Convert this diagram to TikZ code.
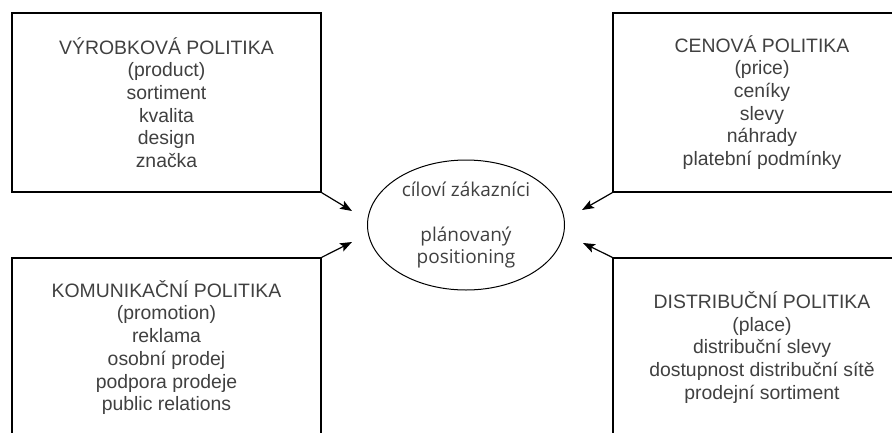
\documentclass[tikz,border=0pt]{standalone}
\usepackage{fontspec}
\setmainfont{Liberation Sans}
\newfontfamily\targetfont{Open Sans}
\usepackage{xcolor}
\definecolor{mktext}{RGB}{64,64,64}
\usetikzlibrary{arrows.meta,shapes.geometric}

\begin{document}
\begin{tikzpicture}[x=1pt, y=-1pt,
  policy/.style={draw=black, line width=1.2pt, text=mktext, font=\fontsize{19.4}{22.7}\selectfont, minimum height=179pt, align=center, inner sep=0pt},
  target/.style={ellipse, draw=black, line width=1pt, text=mktext, font=\targetfont\fontsize{19}{22.5}\selectfont, minimum width=197pt, minimum height=130pt, align=center, inner sep=0pt},
  feed/.style={-{Stealth[length=12pt,width=9pt,inset=2.5pt]}, line width=1.2pt}
]
  \useasboundingbox (0,0) rectangle (892,432);
  \clip (0,0) rectangle (892,432);

  \node[target] (zakaznici) at (466,225) {cíloví zákazníci\\[22.5pt]plánovaný\\positioning};

  \node[policy, minimum width=309pt] (vyrobkova) at (166.5,102.5) {VÝROBKOVÁ POLITIKA\\(product)\\sortiment\\kvalita\\design\\značka};
  \node[policy, minimum width=298pt] (cenova) at (762,102.5) {CENOVÁ POLITIKA\\(price)\\ceníky\\slevy\\náhrady\\platební podmínky};
  \node[policy, minimum width=309pt] (komunikacni) at (166.5,347.5) {KOMUNIKAČNÍ POLITIKA\\(promotion)\\reklama\\osobní prodej\\podpora prodeje\\public relations};
  \node[policy, minimum width=298pt] (distribucni) at (762,347.5) {DISTRIBUČNÍ POLITIKA\\(place)\\distribuční slevy\\dostupnost distribuční sítě\\prodejní sortiment};

  \coordinate (inVyrobkova) at (352,211);
  \coordinate (inCenova) at (582,210);
  \coordinate (inKomunikacni) at (352,242);
  \coordinate (inDistribucni) at (583,243);

  \draw[feed] (vyrobkova.south east) -- (inVyrobkova);
  \draw[feed] (cenova.south west) -- (inCenova);
  \draw[feed] (komunikacni.north east) -- (inKomunikacni);
  \draw[feed] (distribucni.north west) -- (inDistribucni);
\end{tikzpicture}
\end{document}
